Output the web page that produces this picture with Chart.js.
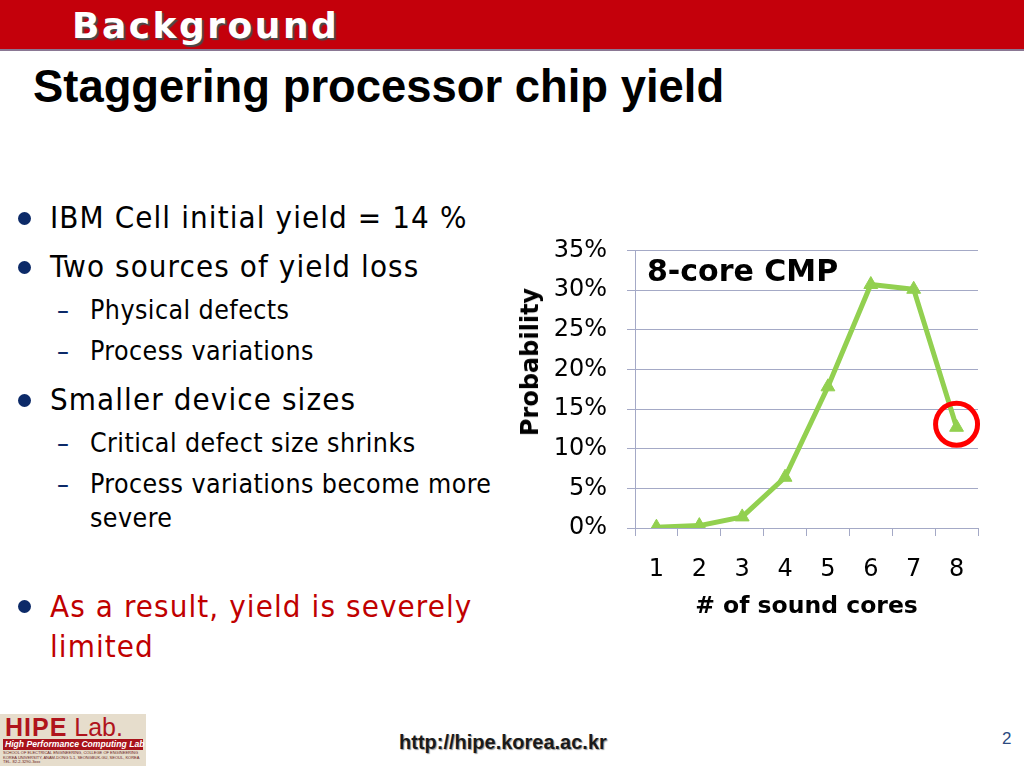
<!DOCTYPE html>
<html>
<head>
<meta charset="utf-8">
<script src="https://cdn.jsdelivr.net/npm/chart.js@4/dist/chart.umd.min.js"></script>
<style>
  html, body { margin:0; padding:0; background:#fff; }
  body { width:1024px; height:768px; position:relative; overflow:hidden; font-family:"Liberation Sans", Arial, sans-serif; }
  .abs { position:absolute; white-space:nowrap; }
  #hdr { left:0; top:0; width:1024px; height:49px; background:#c4000b; }
  #hdrline { left:0; top:49px; width:1024px; height:2px; background:#8a7894; }
  #hdrtxt { left:72px; top:5px; font-family:"DejaVu Sans", Verdana, sans-serif; font-weight:bold; font-size:36px; letter-spacing:2.5px; color:#fff; text-shadow:2px 2px 1px #4a4a4a; line-height:42px; }
  #title { left:33px; top:61px; font-family:"Liberation Sans", Arial, sans-serif; font-weight:bold; font-size:45.4px; color:#000; line-height:52px; }
  .b { font-family:"DejaVu Sans Condensed", "DejaVu Sans", sans-serif; font-stretch:condensed; color:#000; font-variant-ligatures:none; }
  .l1 { font-size:31px; line-height:31px; letter-spacing:1.1px; }
  .l2 { font-size:26.5px; line-height:26.5px; letter-spacing:0.45px; }
  .red { color:#c00000; }
  .dot { position:absolute; width:13px; height:13px; border-radius:50%; background:#0c2a68; left:18px; }
  .dash { color:#0c2a68; }
  #chartbox { position:absolute; left:510px; top:216px; width:480px; height:416px; }
  #ylab { left:530px; top:362px; transform:translate(-50%,-50%) rotate(-90deg); font-family:"DejaVu Sans", Verdana, sans-serif; font-weight:bold; font-size:24px; color:#000; }
  #cmp { left:647px; top:253px; font-family:"DejaVu Sans", Verdana, sans-serif; font-weight:bold; font-size:30px; color:#000; line-height:36px; }
  #logo { left:0; top:714px; width:146px; height:52px; background:#e6ddcc; overflow:hidden; }
  #url { left:399px; top:731px; font-family:"Liberation Sans", Arial, sans-serif; font-weight:bold; font-size:20px; color:#1a1a1a; text-shadow:1px 1px 1px #999; }
  #pg { left:1002px; top:729px; font-family:"Liberation Sans", Arial, sans-serif; font-size:17px; color:#2b4a80; }
</style>
</head>
<body>
<div class="abs" id="hdr"></div>
<div class="abs" id="hdrline"></div>
<div class="abs" id="hdrtxt">Background</div>
<div class="abs" id="title">Staggering processor chip yield</div>

<div class="dot" style="top:212px;"></div>
<div class="abs b l1" style="left:50px;top:201.8px;">IBM Cell initial yield = 14 %</div>
<div class="dot" style="top:261px;"></div>
<div class="abs b l1" style="left:50px;top:250.8px;">Two sources of yield loss</div>
<div class="abs b l2 dash" style="left:57px;top:296.6px;">–</div>
<div class="abs b l2" style="left:90px;top:296.6px;">Physical defects</div>
<div class="abs b l2 dash" style="left:57px;top:337.6px;">–</div>
<div class="abs b l2" style="left:90px;top:337.6px;">Process variations</div>
<div class="dot" style="top:394px;"></div>
<div class="abs b l1" style="left:50px;top:383.8px;">Smaller device sizes</div>
<div class="abs b l2 dash" style="left:57px;top:429.6px;">–</div>
<div class="abs b l2" style="left:90px;top:429.6px;">Critical defect size shrinks</div>
<div class="abs b l2 dash" style="left:57px;top:470.6px;">–</div>
<div class="abs b l2" style="left:90px;top:470.6px;">Process variations become more</div>
<div class="abs b l2" style="left:90px;top:504.6px;">severe</div>
<div class="dot" style="top:600px;"></div>
<div class="abs b l1 red" style="left:50px;top:590.8px;">As a result, yield is severely</div>
<div class="abs b l1 red" style="left:50px;top:630.8px;">limited</div>

<div id="chartbox"><canvas id="c"></canvas></div>
<div class="abs" id="ylab">Probability</div>
<div class="abs" id="cmp">8-core CMP</div>

<div class="abs" id="logo">
  <div class="abs" style="left:5px;top:1px;font-family:'Liberation Sans',Arial,sans-serif;font-size:25px;line-height:25px;color:#b0141c;"><b style="letter-spacing:1px;">HIPE</b> Lab.</div>
  <div class="abs" style="left:3px;top:25px;width:140px;height:11px;background:#a8121a;"></div>
  <div class="abs" style="left:5px;top:25px;font-family:'Liberation Sans',Arial,sans-serif;font-style:italic;font-weight:bold;font-size:8.6px;line-height:11px;color:#fff;">High Performance Computing Lab</div>
  <div class="abs" style="left:3px;top:37px;font-family:'Liberation Sans',Arial,sans-serif;font-size:4px;line-height:4.5px;color:#6a1a1a;">SCHOOL OF ELECTRICAL ENGINEERING, COLLEGE OF ENGINEERING<br>KOREA UNIVERSITY, ANAM-DONG 5-1, SEONGBUK-GU, SEOUL, KOREA<br>TEL. 82-2-3290-3xxx</div>
</div>
<div class="abs" id="url">http://hipe.korea.ac.kr</div>
<div class="abs" id="pg">2</div>

<script>
// ---- data ----
const cores = ['1', '2', '3', '4', '5', '6', '7', '8'];
const probability = [0.1, 0.3, 1.4, 6.4, 17.8, 30.7, 30.1, 12.7];
const yTicks = [0, 5, 10, 15, 20, 25, 30, 35];
const highlightIndex = 7;

const gridColor = '#a4a9c6';

const circlePlugin = {
  id: 'highlightCircle',
  afterDatasetsDraw(chart) {
    const pt = chart.getDatasetMeta(0).data[highlightIndex];
    if (!pt) return;
    const ctx = chart.ctx;
    ctx.save();
    ctx.beginPath();
    ctx.arc(pt.x, pt.y - 3, 21, 0, Math.PI * 2);
    ctx.lineWidth = 5;
    ctx.strokeStyle = '#ff0000';
    ctx.stroke();
    ctx.restore();
  }
};

new Chart(document.getElementById('c'), {
  type: 'line',
  data: {
    labels: cores,
    datasets: [{
      data: probability,
      borderColor: '#92d050',
      backgroundColor: '#92d050',
      borderWidth: 5,
      pointStyle: 'triangle',
      pointRadius: 8,
      pointBorderWidth: 1,
      pointBorderColor: '#92d050',
      pointBackgroundColor: '#92d050',
      tension: 0,
      fill: false
    }]
  },
  options: {
    responsive: true,
    maintainAspectRatio: false,
    animation: false,
    devicePixelRatio: 1,
    layout: { padding: { top: 2, right: 12, left: 0, bottom: 0 } },
    plugins: { legend: { display: false }, tooltip: { enabled: false } },
    scales: {
      x: {
        type: 'category',
        offset: true,
        grid: { display: true, offset: true, drawOnChartArea: false, drawTicks: true, tickLength: 8, color: gridColor, lineWidth: 1 },
        border: { display: true, color: gridColor },
        ticks: { color: '#000', font: { family: '"DejaVu Sans", Verdana, sans-serif', size: 24 }, padding: 19, maxRotation: 0 },
        title: { display: true, text: '# of sound cores', color: '#000', font: { family: '"DejaVu Sans", Verdana, sans-serif', size: 23.5, weight: 'bold' }, padding: { top: 0, bottom: 11 } },
        afterFit(s) { s.height = 104; }
      },
      y: {
        min: 0,
        max: 35,
        afterBuildTicks(s) { s.ticks = yTicks.map(v => ({ value: v })); },
        grid: { color: gridColor, lineWidth: 1, drawTicks: true, tickLength: 8 },
        border: { display: true, color: gridColor },
        ticks: { color: '#000', font: { family: '"DejaVu Sans", Verdana, sans-serif', size: 24 }, padding: 20, callback: v => v + '%' },
        afterFit(s) { s.width = 125; }
      }
    }
  },
  plugins: [circlePlugin]
});
</script>
</body>
</html>
